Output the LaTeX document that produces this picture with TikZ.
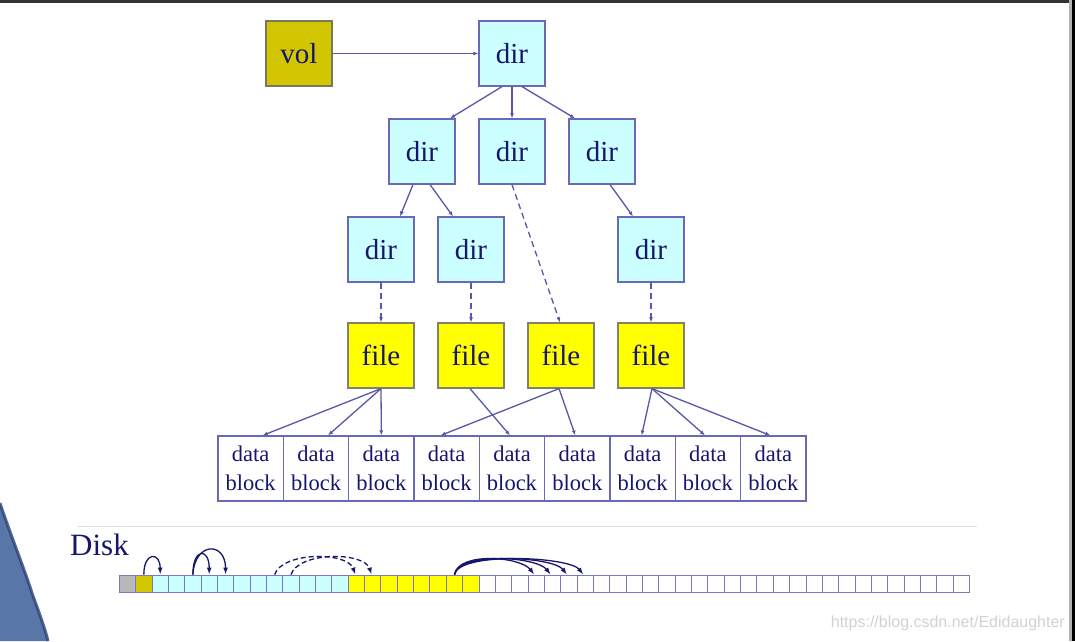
\documentclass[tikz,border=0pt]{standalone}
\usepackage{fontspec}
\setmainfont{Liberation Serif}
\newfontfamily\wmfont{Liberation Sans}
\usetikzlibrary{arrows.meta,calc}

\definecolor{ink}{RGB}{22,22,110}
\definecolor{edge}{RGB}{88,88,168}
\definecolor{dirfill}{RGB}{204,255,255}
\definecolor{dirline}{RGB}{105,105,185}
\definecolor{volfill}{RGB}{210,198,0}
\definecolor{volline}{RGB}{120,120,95}
\definecolor{filefill}{RGB}{255,255,0}
\definecolor{fileline}{RGB}{130,130,105}
\definecolor{cellline}{RGB}{120,120,200}
\definecolor{rule}{RGB}{218,218,232}
\definecolor{coat}{RGB}{88,118,168}
\definecolor{coatedge}{RGB}{45,65,115}

\tikzset{
  box/.style={draw, line width=1.2pt, minimum width=66pt, minimum height=65pt,
    inner sep=0pt, text=ink, font=\fontsize{29}{29}\selectfont},
  dirbox/.style={box, fill=dirfill, draw=dirline},
  volbox/.style={box, fill=volfill, draw=volline},
  filebox/.style={box, fill=filefill, draw=fileline},
  blockbox/.style={draw=dirline, line width=1.2pt, fill=white, minimum width=65.33pt,
    minimum height=65pt, inner sep=0pt, text=ink, align=center,
    font=\fontsize{22.5}{29}\selectfont},
  cell/.style={draw=cellline, line width=1pt, minimum width=16.35pt,
    minimum height=17pt, inner sep=0pt},
  link/.style={draw=edge, line width=1.3pt, -{Latex[length=5pt,width=4pt,fill=ink]}},
  weak/.style={link, dash pattern=on 6pt off 4pt},
  hop/.style={draw=ink, line width=1.3pt, -{Latex[length=7pt,width=5pt]}},
}

\begin{document}
\begin{tikzpicture}[x=1pt,y=-1pt]
\useasboundingbox (0,0) rectangle (1075,641);
\fill[white] (0,0) rectangle (1075,641);

% screen frame
\fill[black!80] (0,0) rectangle (1075,2.5);
\fill[gray!60] (1069,0) rectangle (1071.5,641);
\fill[black] (1071.5,0) rectangle (1075,641);

% shoulder of the speaker at the lower left
\fill[coat] (0,503) .. controls (8,528) and (24,568) .. (32,593)
  .. controls (38,610) and (44,625) .. (48,641) -- (0,641) -- cycle;
\draw[coatedge, line width=3pt, opacity=0.8] (0,503) .. controls (8,528) and (24,568) .. (32,593)
  .. controls (38,610) and (44,625) .. (48,641);

% tree of volume, directories, files
\node[volbox]  (vol) at (299,53.5) {vol};
\node[dirbox]  (root) at (512,53.5) {dir};
\node[dirbox]  (da) at (422,151.5) {dir};
\node[dirbox]  (db) at (512,151.5) {dir};
\node[dirbox]  (dc) at (602,151.5) {dir};
\node[dirbox]  (ea) at (381,249.5) {dir};
\node[dirbox]  (eb) at (471,249.5) {dir};
\node[dirbox]  (ec) at (651,249.5) {dir};
\node[filebox] (fa) at (381,355.5) {file};
\node[filebox] (fb) at (471,355.5) {file};
\node[filebox] (fc) at (561,355.5) {file};
\node[filebox] (fd) at (651,355.5) {file};

\foreach \i in {1,...,9}{
  \node[blockbox] (b\i) at ({218+65.33*(\i-0.5)},468.5) {data\\block};
}

\draw[link] (vol.east) -- (root.west);
\draw[link] ([xshift=-10pt]root.south) -- ([xshift=28pt]da.north);
\draw[link] (root.south) -- (db.north);
\draw[link] ([xshift=10pt]root.south) -- ([xshift=-27pt]dc.north);
\draw[link] ([xshift=-9pt]da.south) -- ([xshift=19pt]ea.north);
\draw[link] ([xshift=8pt]da.south) -- ([xshift=-18pt]eb.north);
\draw[link] ([xshift=8pt]dc.south) -- ([xshift=-18pt]ec.north);
\draw[weak] (db.south) -- ([xshift=-1pt]fc.north);
\draw[weak] (ea.south) -- (fa.north);
\draw[weak] (eb.south) -- (fb.north);
\draw[weak] (ec.south) -- (fd.north);

\draw[link] (fa.south) -- ([xshift=12pt]b1.north);
\draw[link] (fa.south) -- ([xshift=12pt]b2.north);
\draw[link] (fa.south) -- (b3.north);
\draw[link] ([xshift=-1pt]fb.south) -- ([xshift=-2pt]b5.north);
\draw[link] ([xshift=-2pt]fc.south) -- ([xshift=-6pt]b4.north);
\draw[link] ([xshift=-2pt]fc.south) -- ([xshift=-2pt]b6.north);
\draw[link] ([xshift=1pt]fd.south) -- ([xshift=-1pt]b7.north);
\draw[link] ([xshift=1pt]fd.south) -- ([xshift=-3pt]b8.north);
\draw[link] ([xshift=1pt]fd.south) -- ([xshift=-3pt]b9.north);

% disk layout
\draw[rule, line width=1.6pt] (78,526.5) -- (977,526.5);
\node[anchor=base west, text=ink, font=\fontsize{31}{31}\selectfont, inner sep=0pt] (disk) at (70,555) {Disk};

\foreach \i in {0,...,51}{
  \pgfmathtruncatemacro{\kind}{\i==0 ? 0 : (\i==1 ? 1 : (\i<14 ? 2 : (\i<22 ? 3 : 4)))}
  \ifcase\kind
    \def\cellfill{gray!55}\or
    \def\cellfill{volfill}\or
    \def\cellfill{dirfill}\or
    \def\cellfill{filefill}\or
    \def\cellfill{white}\fi
  \node[cell, fill=\cellfill] (c\i) at ({119.3+16.35*(\i+0.5)},583.5) {};
}

\draw[hop] (c1.north) .. controls +(0,-23) and +(0,-23) .. (c2.north);
\draw[hop] (c4.north) .. controls +(0,-27) and +(0,-27) .. (c5.north);
\draw[hop] (c4.north) .. controls +(2,-33) and +(0,-33) .. (c6.north);
\draw[hop, dash pattern=on 5pt off 3pt] (c9.north) .. controls +(8,-23) and +(-8,-23) .. ([xshift=-1pt]c14.north);
\draw[hop, dash pattern=on 5pt off 3pt] (c10.north) .. controls +(8,-23) and +(-8,-23) .. ([xshift=-1pt]c15.north);
\foreach \j in {25,...,28}{
  \draw[hop] (c20.north) .. controls +(4,-23) and +(-14,-18) .. ([xshift=-2pt]c\j.north);
}

% watermark
\node[anchor=base east, text=gray!35, font=\wmfont\fontsize{16}{16}\selectfont, inner sep=0pt] (mark) at (1065,627) {https://blog.csdn.net/Edidaughter};
\end{tikzpicture}
\end{document}
